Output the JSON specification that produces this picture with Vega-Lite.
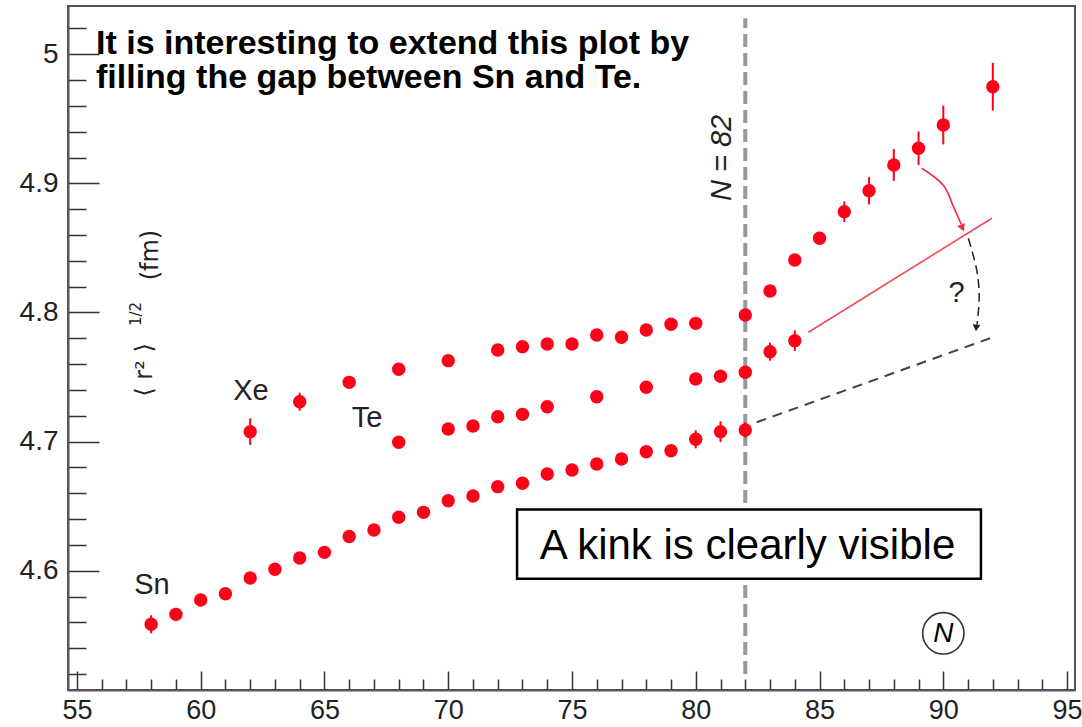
{
  "$schema": "https://vega.github.io/schema/vega-lite/v6.json",
  "width": 1007,
  "height": 684,
  "autosize": "none",
  "padding": {"left": 68, "top": 6, "right": 7, "bottom": 37},
  "background": "white",
  "config": {"view": {"stroke": "#555", "strokeWidth": 2}},
  "datasets": {
    "pts": [
      {"series": "Sn", "N": 58, "r": 4.5585, "err": 0.007},
      {"series": "Sn", "N": 59, "r": 4.5662, "err": 0.005},
      {"series": "Sn", "N": 60, "r": 4.5773, "err": 0.004},
      {"series": "Sn", "N": 61, "r": 4.5822, "err": 0.004},
      {"series": "Sn", "N": 62, "r": 4.5943, "err": 0.004},
      {"series": "Sn", "N": 63, "r": 4.6011, "err": 0.004},
      {"series": "Sn", "N": 64, "r": 4.6098, "err": 0.004},
      {"series": "Sn", "N": 65, "r": 4.6142, "err": 0.004},
      {"series": "Sn", "N": 66, "r": 4.6265, "err": 0.004},
      {"series": "Sn", "N": 67, "r": 4.6315, "err": 0.004},
      {"series": "Sn", "N": 68, "r": 4.6414, "err": 0.004},
      {"series": "Sn", "N": 69, "r": 4.6452, "err": 0.004},
      {"series": "Sn", "N": 70, "r": 4.6542, "err": 0.004},
      {"series": "Sn", "N": 71, "r": 4.6579, "err": 0.004},
      {"series": "Sn", "N": 72, "r": 4.6651, "err": 0.004},
      {"series": "Sn", "N": 73, "r": 4.6677, "err": 0.004},
      {"series": "Sn", "N": 74, "r": 4.6749, "err": 0.004},
      {"series": "Sn", "N": 75, "r": 4.678, "err": 0.004},
      {"series": "Sn", "N": 76, "r": 4.6827, "err": 0.004},
      {"series": "Sn", "N": 77, "r": 4.6865, "err": 0.004},
      {"series": "Sn", "N": 78, "r": 4.6922, "err": 0.004},
      {"series": "Sn", "N": 79, "r": 4.6929, "err": 0.004},
      {"series": "Sn", "N": 80, "r": 4.7018, "err": 0.007},
      {"series": "Sn", "N": 81, "r": 4.7077, "err": 0.008},
      {"series": "Sn", "N": 82, "r": 4.709, "err": 0.006},
      {"series": "Te", "N": 68, "r": 4.6995, "err": 0.004},
      {"series": "Te", "N": 70, "r": 4.7098, "err": 0.004},
      {"series": "Te", "N": 71, "r": 4.7121, "err": 0.004},
      {"series": "Te", "N": 72, "r": 4.7193, "err": 0.004},
      {"series": "Te", "N": 73, "r": 4.7211, "err": 0.004},
      {"series": "Te", "N": 74, "r": 4.727, "err": 0.004},
      {"series": "Te", "N": 76, "r": 4.7348, "err": 0.004},
      {"series": "Te", "N": 78, "r": 4.7421, "err": 0.004},
      {"series": "Te", "N": 80, "r": 4.7485, "err": 0.004},
      {"series": "Te", "N": 81, "r": 4.7506, "err": 0.004},
      {"series": "Te", "N": 82, "r": 4.7537, "err": 0.004},
      {"series": "Te", "N": 83, "r": 4.7696, "err": 0.007},
      {"series": "Te", "N": 84, "r": 4.7782, "err": 0.008},
      {"series": "Xe", "N": 62, "r": 4.7077, "err": 0.0103},
      {"series": "Xe", "N": 64, "r": 4.7309, "err": 0.007},
      {"series": "Xe", "N": 66, "r": 4.7459, "err": 0.004},
      {"series": "Xe", "N": 68, "r": 4.756, "err": 0.004},
      {"series": "Xe", "N": 70, "r": 4.7627, "err": 0.004},
      {"series": "Xe", "N": 72, "r": 4.771, "err": 0.004},
      {"series": "Xe", "N": 73, "r": 4.7735, "err": 0.004},
      {"series": "Xe", "N": 74, "r": 4.7756, "err": 0.004},
      {"series": "Xe", "N": 75, "r": 4.7756, "err": 0.004},
      {"series": "Xe", "N": 76, "r": 4.7826, "err": 0.004},
      {"series": "Xe", "N": 77, "r": 4.7808, "err": 0.004},
      {"series": "Xe", "N": 78, "r": 4.7865, "err": 0.004},
      {"series": "Xe", "N": 79, "r": 4.7909, "err": 0.004},
      {"series": "Xe", "N": 80, "r": 4.7916, "err": 0.004},
      {"series": "Heavy", "N": 82, "r": 4.7981, "err": 0.004},
      {"series": "Heavy", "N": 83, "r": 4.8167, "err": 0.004},
      {"series": "Heavy", "N": 84, "r": 4.8407, "err": 0.004},
      {"series": "Heavy", "N": 85, "r": 4.8575, "err": 0.005},
      {"series": "Heavy", "N": 86, "r": 4.8781, "err": 0.008},
      {"series": "Heavy", "N": 87, "r": 4.8943, "err": 0.0106},
      {"series": "Heavy", "N": 88, "r": 4.9143, "err": 0.0123},
      {"series": "Heavy", "N": 89, "r": 4.9272, "err": 0.013},
      {"series": "Heavy", "N": 90, "r": 4.9452, "err": 0.015},
      {"series": "Heavy", "N": 92, "r": 4.9749, "err": 0.0185}
    ]
  },
  "encoding": {
    "x": {
      "field": "N", "type": "quantitative",
      "scale": {"domain": [54.64, 95.32], "nice": false, "zero": false},
      "axis": {
        "title": null,
        "values": [55,56,57,58,59,60,61,62,63,64,65,66,67,68,69,70,71,72,73,74,75,76,77,78,79,80,81,82,83,84,85,86,87,88,89,90,91,92,93,94,95],
        "labelExpr": "datum.value % 5 === 0 ? datum.label : ''",
        "labelOverlap": false,
        "labelFont": "Liberation Sans", "labelFontSize": 27, "labelColor": "#222",
        "labelPadding": 26,
        "tickColor": "#333", "tickWidth": 1.5,
        "tickSize": {"condition": {"test": "datum.value % 5 === 0", "value": -19}, "value": -11},
        "domainColor": "#555", "domainWidth": 2, "grid": false
      }
    },
    "y": {
      "field": "r", "type": "quantitative",
      "scale": {"domain": [4.5076, 5.0374], "nice": false, "zero": false},
      "axis": {
        "title": null,
        "values": [4.52,4.54,4.56,4.58,4.6,4.62,4.64,4.66,4.68,4.7,4.72,4.74,4.76,4.78,4.8,4.82,4.84,4.86,4.88,4.9,4.92,4.94,4.96,4.98,5,5.02],
        "labelExpr": "abs(datum.value*10 - round(datum.value*10)) < 0.001 ? '' + round(datum.value*10)/10 : ''",
        "labelOverlap": false,
        "labelFont": "Liberation Sans", "labelFontSize": 28, "labelColor": "#222",
        "labelPadding": 41,
        "tickColor": "#333", "tickWidth": 1.5,
        "tickSize": {"condition": {"test": "abs(datum.value*10 - round(datum.value*10)) < 0.001", "value": -31}, "value": -18},
        "domainColor": "#555", "domainWidth": 2, "grid": false
      }
    }
  },
  "layer": [
    {
      "data": {"values": [{"N": 82, "r": 4.52, "r2": 5.028}]},
      "mark": {"type": "rule", "color": "#999", "strokeWidth": 4, "strokeDash": [13, 6]},
      "encoding": {"y2": {"field": "r2"}}
    },
    {
      "data": {"values": [{"N": 84.55, "r": 4.7847}, {"N": 91.96, "r": 4.873}]},
      "mark": {"type": "line", "color": "#f24a55", "strokeWidth": 1.6},
      "encoding": {}
    },
    {
      "data": {"values": [{"N": 82.46, "r": 4.715}, {"N": 92.0, "r": 4.7808}]},
      "mark": {"type": "line", "color": "#444", "strokeWidth": 2, "strokeDash": [10, 7]},
      "encoding": {}
    },
    {
      "data": {"values": [
        {"o": 1, "N": 89.13, "r": 4.9117},
        {"o": 2, "N": 90.0, "r": 4.8985},
        {"o": 3, "N": 90.41, "r": 4.882},
        {"o": 4, "N": 90.72, "r": 4.8685}
      ]},
      "mark": {"type": "line", "color": "#f0303a", "strokeWidth": 1.6, "interpolate": "catmull-rom"},
      "encoding": {"order": {"field": "o"}}
    },
    {
      "data": {"values": [{"N": 90.77, "r": 4.8655}]},
      "mark": {"type": "point", "shape": "triangle-down", "filled": true, "color": "#f0303a", "size": 70, "angle": -23, "opacity": 1}
    },
    {
      "data": {"values": [
        {"o": 1, "N": 91.01, "r": 4.8575},
        {"o": 2, "N": 91.35, "r": 4.8329},
        {"o": 3, "N": 91.45, "r": 4.8122},
        {"o": 4, "N": 91.36, "r": 4.7905}
      ]},
      "mark": {"type": "line", "color": "#222", "strokeWidth": 1.5, "strokeDash": [9, 5], "interpolate": "catmull-rom"},
      "encoding": {"order": {"field": "o"}}
    },
    {
      "data": {"values": [{"N": 91.33, "r": 4.788}]},
      "mark": {"type": "point", "shape": "triangle-down", "filled": true, "color": "#222", "size": 60, "angle": 5, "opacity": 1}
    },
    {
      "data": {"name": "pts"},
      "mark": {"type": "errorbar", "color": "#ff0019", "thickness": 2},
      "encoding": {"yError": {"field": "err"}}
    },
    {
      "data": {"name": "pts"},
      "mark": {"type": "point", "shape": "circle", "filled": true, "color": "#ff0019", "size": 180, "opacity": 1}
    },
    {
      "data": {"values": [{"N": 72.78, "N2": 91.52, "r": 4.5938, "r2": 4.6475}]},
      "mark": {"type": "rect", "fill": "white", "stroke": "black", "strokeWidth": 2.5},
      "encoding": {"x2": {"field": "N2"}, "y2": {"field": "r2"}}
    },
    {
      "data": {"values": [{"N": 82.09, "r": 4.6088, "t": "A kink is clearly visible"}]},
      "mark": {"type": "text", "font": "Liberation Sans", "fontSize": 42, "color": "black", "align": "center", "baseline": "alphabetic"},
      "encoding": {"text": {"field": "t"}}
    },
    {
      "data": {"values": [
        {"N": 55.77, "r": 5.0, "t": "It is interesting to extend this plot by"},
        {"N": 55.77, "r": 4.9735, "t": "filling the gap between Sn and Te."}
      ]},
      "mark": {"type": "text", "font": "Liberation Sans", "fontWeight": "bold", "fontSize": 34, "color": "black", "align": "left", "baseline": "alphabetic"},
      "encoding": {"text": {"field": "t"}}
    },
    {
      "data": {"values": [
        {"N": 62.03, "r": 4.7392, "t": "Xe"},
        {"N": 66.72, "r": 4.7185, "t": "Te"},
        {"N": 58.03, "r": 4.5889, "t": "Sn"},
        {"N": 90.54, "r": 4.8149, "t": "?"}
      ]},
      "mark": {"type": "text", "font": "Liberation Sans", "fontSize": 29, "color": "#222", "align": "center", "baseline": "middle"},
      "encoding": {"text": {"field": "t"}}
    },
    {
      "data": {"values": [{"N": 81.04, "r": 4.9197, "t": "N = 82"}]},
      "mark": {"type": "text", "font": "Liberation Sans", "fontStyle": "italic", "fontSize": 29, "color": "#222", "align": "center", "baseline": "middle", "angle": -90},
      "encoding": {"text": {"field": "t"}}
    },
    {
      "data": {"values": [{"N": 57.75, "r": 4.7555, "t": "⟨ r² ⟩"}, {"N": 57.99, "r": 4.8445, "t": "(fm)"}]},
      "mark": {"type": "text", "font": "DejaVu Sans", "fontSize": 24, "color": "#222", "align": "center", "baseline": "middle", "angle": -90},
      "encoding": {"text": {"field": "t"}}
    },
    {
      "data": {"values": [{"N": 57.38, "r": 4.7988, "t": "1/2"}]},
      "mark": {"type": "text", "font": "DejaVu Sans", "fontSize": 15, "color": "#222", "align": "center", "baseline": "middle", "angle": -90},
      "encoding": {"text": {"field": "t"}}
    },
    {
      "data": {"values": [{"N": 90.0, "r": 4.5515}]},
      "mark": {"type": "point", "shape": "circle", "filled": false, "stroke": "#333", "strokeWidth": 1.6, "size": 1710, "opacity": 1}
    },
    {
      "data": {"values": [{"N": 90.0, "r": 4.5515, "t": "N"}]},
      "mark": {"type": "text", "font": "Liberation Sans", "fontStyle": "italic", "fontSize": 28, "color": "black", "align": "center", "baseline": "middle", "dy": 1},
      "encoding": {"text": {"field": "t"}}
    }
  ]
}
